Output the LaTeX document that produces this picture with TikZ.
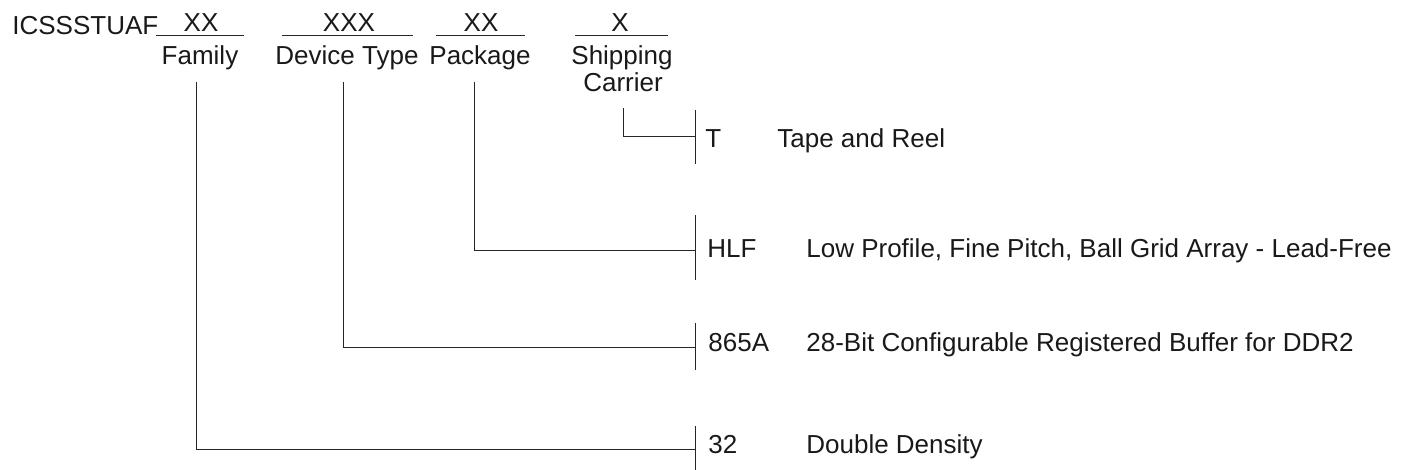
\documentclass[tikz,border=0pt]{standalone}
\usepackage{fontspec}
\setmainfont{Liberation Sans}
\tikzset{
  txt/.style={inner sep=0pt, text=black!90, font=\fontsize{13}{15}\selectfont},
  ln/.style={black!85, line width=0.5pt}
}
\begin{document}
\begin{tikzpicture}[x=0.5pt,y=-0.5pt]
  \useasboundingbox (0,0) rectangle (1404,470);
  % part number and its fields
  \node [txt,anchor=base west] (pn) at (12,35) {ICSSSTUAF};
  \node [txt,anchor=base] (fxx) at (201,32) {XX};
  \node [txt,anchor=base] (fxxx) at (349,32) {XXX};
  \node [txt,anchor=base] (pxx) at (481,32) {XX};
  \node [txt,anchor=base] (sx) at (620,32) {X};
  \draw [ln] (156,36) -- (244,36);
  \draw [ln] (282,36) -- (413,36);
  \draw [ln] (436,36) -- (525,36);
  \draw [ln] (575,36) -- (668,36);
  \node [txt,anchor=base] (family) at (200,65) {Family};
  \node [txt,anchor=base] (devtype) at (347,65) {Device Type};
  \node [txt,anchor=base] (package) at (480,65) {Package};
  \node [txt,anchor=base] (shipping) at (622,65) {Shipping};
  \node [txt,anchor=base] (carrier) at (623,92) {Carrier};
  % options
  \node [txt,anchor=base west] (ct) at (705,148) {T};
  \node [txt,anchor=base west] (dt) at (777,148) {Tape and Reel};
  \node [txt,anchor=base west] (chlf) at (707,258) {HLF};
  \node [txt,anchor=base west] (dhlf) at (806,258) {Low Profile, Fine Pitch, Ball Grid Array - Lead-Free};
  \node [txt,anchor=base west] (c865) at (708,352) {865A};
  \node [txt,anchor=base west] (d865) at (806,352) {28-Bit Configurable Registered Buffer for DDR2};
  \node [txt,anchor=base west] (c32) at (708,453) {32};
  \node [txt,anchor=base west] (d32) at (806,453) {Double Density};
  % bars
  \coordinate (bt) at (695,137);
  \coordinate (bhlf) at (695,251);
  \coordinate (b865) at (695,348);
  \coordinate (b32) at (695,449);
  \draw [ln] (695,110) -- (695,164);
  \draw [ln] (695,215) -- (695,280);
  \draw [ln] (695,323) -- (695,370);
  \draw [ln] (695,426) -- (695,470);
  % leaders
  \coordinate (famdn) at (196,82);
  \coordinate (devdn) at (343,82);
  \coordinate (pkgdn) at (474,82);
  \coordinate (shpdn) at (623,108);
  \draw [ln] (shpdn) |- (bt);
  \draw [ln] (pkgdn) |- (bhlf);
  \draw [ln] (devdn) |- (b865);
  \draw [ln] (famdn) |- (b32);
\end{tikzpicture}
\end{document}
